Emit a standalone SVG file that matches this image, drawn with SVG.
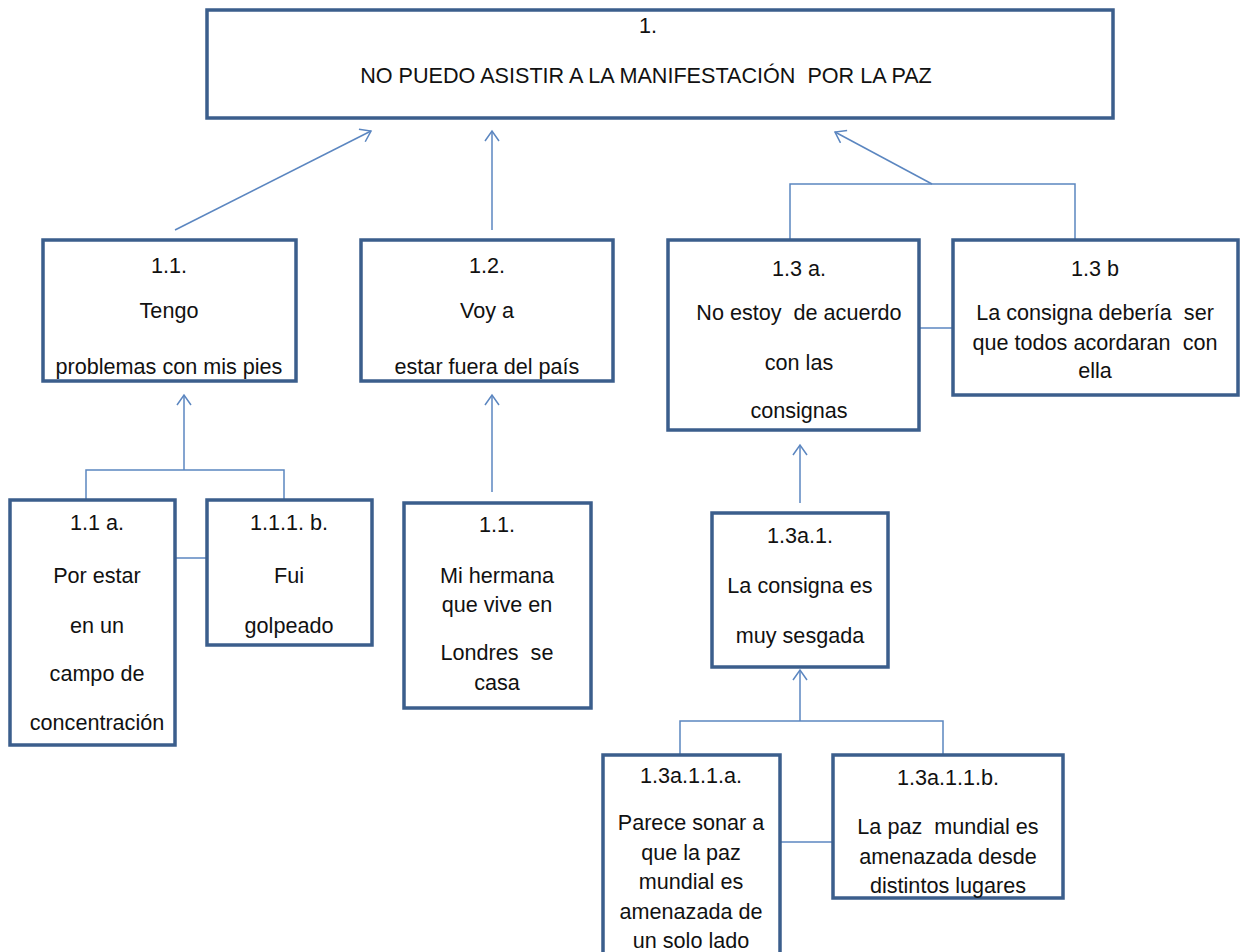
<svg xmlns="http://www.w3.org/2000/svg" width="1240" height="952" viewBox="0 0 1240 952">
<style>
.box{fill:#fff;stroke:#3b5e8c;stroke-width:3.5}
.ln{fill:none;stroke:#5b86c0;stroke-width:1.5}
text{font-family:"Liberation Sans",Arial,sans-serif;font-size:21.6px;fill:#111;text-anchor:middle;white-space:pre}
</style>
<defs>
<marker id="ah" markerUnits="userSpaceOnUse" markerWidth="14" markerHeight="18" refX="11" refY="8" orient="auto">
<path d="M1,1 L11,8 L1,15" fill="none" stroke="#5b86c0" stroke-width="1.5"/>
</marker>
</defs>
<rect width="1240" height="952" fill="#fff"/>
<g id="connectors">
<line class="ln" x1="175" y1="230" x2="371" y2="131" marker-end="url(#ah)"/>
<line class="ln" x1="492" y1="230" x2="492" y2="131" marker-end="url(#ah)"/>
<polyline class="ln" points="790,240 790,184 1075,184 1075,240"/>
<line class="ln" x1="932" y1="184" x2="835" y2="132" marker-end="url(#ah)"/>
<line class="ln" x1="919" y1="328" x2="953" y2="328"/>
<polyline class="ln" points="86,500 86,470 284,470 284,500"/>
<line class="ln" x1="184" y1="470" x2="184" y2="395" marker-end="url(#ah)"/>
<line class="ln" x1="175" y1="558" x2="207" y2="558"/>
<line class="ln" x1="492" y1="492" x2="492" y2="395" marker-end="url(#ah)"/>
<line class="ln" x1="800" y1="503" x2="800" y2="445" marker-end="url(#ah)"/>
<polyline class="ln" points="680,754 680,721 943,721 943,754"/>
<line class="ln" x1="800" y1="721" x2="800" y2="670" marker-end="url(#ah)"/>
<line class="ln" x1="780" y1="842" x2="833" y2="842"/>
</g>
<g id="n1">
<rect class="box" x="207" y="10" width="906" height="108"/>
<text x="648" y="33">1.</text>
<text x="646" y="83">NO PUEDO ASISTIR A LA MANIFESTACIÓN  POR LA PAZ</text>
</g>
<g id="n1_1">
<rect class="box" x="43" y="240" width="253" height="141"/>
<text x="169" y="273">1.1.</text>
<text x="169" y="318">Tengo</text>
<text x="169" y="374">problemas con mis pies</text>
</g>
<g id="n1_2">
<rect class="box" x="361" y="240" width="252" height="141"/>
<text x="487" y="273">1.2.</text>
<text x="487" y="318">Voy a</text>
<text x="487" y="374">estar fuera del país</text>
</g>
<g id="n1_3a">
<rect class="box" x="668" y="240" width="251" height="190"/>
<text x="799" y="276">1.3 a.</text>
<text x="799" y="320">No estoy  de acuerdo</text>
<text x="799" y="370">con las</text>
<text x="799" y="418">consignas</text>
</g>
<g id="n1_3b">
<rect class="box" x="953" y="240" width="285" height="155"/>
<text x="1095" y="276">1.3 b</text>
<text x="1095" y="320">La consigna debería  ser</text>
<text x="1095" y="350">que todos acordaran  con</text>
<text x="1095" y="378">ella</text>
</g>
<g id="n1_1a">
<rect class="box" x="10" y="500" width="165" height="245"/>
<text x="97" y="530">1.1 a.</text>
<text x="97" y="583">Por estar</text>
<text x="97" y="633">en un</text>
<text x="97" y="681">campo de</text>
<text x="97" y="730">concentración</text>
</g>
<g id="n1_1_1b">
<rect class="box" x="207" y="500" width="165" height="145"/>
<text x="289" y="530">1.1.1. b.</text>
<text x="289" y="583">Fui</text>
<text x="289" y="633">golpeado</text>
</g>
<g id="n1_2_1">
<rect class="box" x="404" y="503" width="187" height="205"/>
<text x="497" y="532">1.1.</text>
<text x="497" y="583">Mi hermana</text>
<text x="497" y="612">que vive en</text>
<text x="497" y="660">Londres  se</text>
<text x="497" y="690">casa</text>
</g>
<g id="n1_3a1">
<rect class="box" x="712" y="513" width="176" height="154"/>
<text x="800" y="543">1.3a.1.</text>
<text x="800" y="593">La consigna es</text>
<text x="800" y="643">muy sesgada</text>
</g>
<g id="n1_3a11a">
<rect class="box" x="603" y="755" width="177" height="205"/>
<text x="691" y="783">1.3a.1.1.a.</text>
<text x="691" y="830">Parece sonar a</text>
<text x="691" y="860">que la paz</text>
<text x="691" y="889">mundial es</text>
<text x="691" y="919">amenazada de</text>
<text x="691" y="948">un solo lado</text>
</g>
<g id="n1_3a11b">
<rect class="box" x="833" y="755" width="230" height="143"/>
<text x="948" y="785">1.3a.1.1.b.</text>
<text x="948" y="834">La paz  mundial es</text>
<text x="948" y="864">amenazada desde</text>
<text x="948" y="893">distintos lugares</text>
</g>
</svg>
